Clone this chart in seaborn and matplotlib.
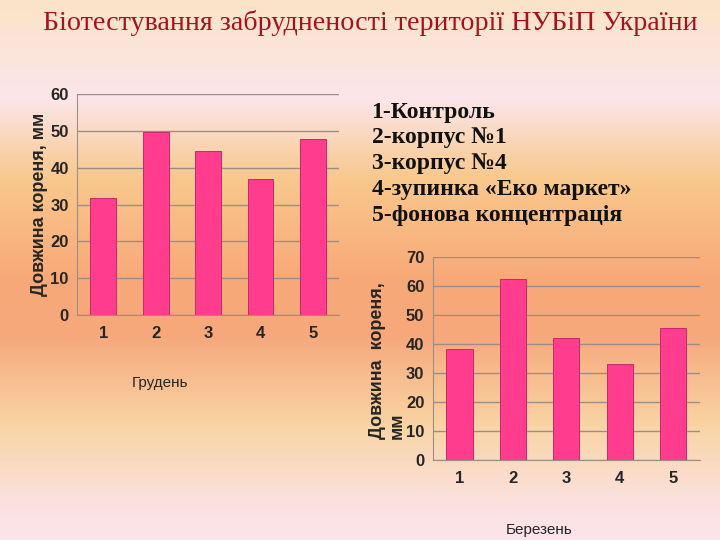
import numpy as np
import matplotlib
matplotlib.use('Agg')
import matplotlib.pyplot as plt
import seaborn as sns
from matplotlib.colors import LinearSegmentedColormap

# data
sites = ['1', '2', '3', '4', '5']
december = [31.7, 49.6, 44.5, 36.9, 47.8]
march = [38.2, 62.3, 41.9, 33.0, 45.5]
legend_lines = ['1-Контроль', '2-корпус №1', '3-корпус №4',
                '4-зупинка «Еко маркет»', '5-фонова концентрація']

sns.set_style('white')
plt.rcParams['font.family'] = ['Liberation Sans', 'DejaVu Sans']

bar_color = '#FF3C8E'
edge_color = '#C8286A'
grid_color = '#9A8F88'

fig = plt.figure(figsize=(7.2, 5.4), dpi=100)

# background gradient
bg = fig.add_axes([0, 0, 1, 1], zorder=-10)
stops = [(0.0, '#FBE3C8'), (0.18, '#FCE6EA'), (0.33, '#F8C88C'),
         (0.52, '#F8A878'), (0.62, '#F6A87C'), (0.79, '#F9D4A4'),
         (0.92, '#FBE0DA'), (1.0, '#FCE4EC')]
cmap = LinearSegmentedColormap.from_list('bg', stops)
grad = np.linspace(0, 1, 540).reshape(-1, 1)
bg.imshow(grad, aspect='auto', cmap=cmap, extent=[0, 1, 1, 0])
bg.axis('off')


def draw(ax, values, ymax, ylabel, xlabel, ylab_xy, xlab_xy, ml='center'):
    sns.barplot(x=sites, y=values, ax=ax, color=bar_color, width=0.49,
                edgecolor=edge_color, linewidth=0.7, saturation=1, zorder=3)
    ax.set_facecolor('none')
    ax.set_xlim(-0.5, 4.5)
    ax.set_ylim(0, ymax)
    ax.set_yticks(range(0, ymax + 1, 10))
    ax.yaxis.grid(True, color=grid_color, linewidth=1)
    ax.set_axisbelow(True)
    for s in ['top', 'right']:
        ax.spines[s].set_visible(False)
    for s in ['left', 'bottom']:
        ax.spines[s].set_color(grid_color)
    ax.set_xticks(np.arange(-0.5, 5, 1), minor=True)
    ax.tick_params(axis='x', which='major', length=0, pad=8)
    ax.tick_params(axis='x', which='minor', length=4, color=grid_color, direction='out')
    ax.tick_params(axis='y', length=4, color=grid_color, pad=2)
    for lab in ax.get_xticklabels() + ax.get_yticklabels():
        lab.set_fontweight('bold')
        lab.set_fontsize(12)
    ax.set_ylabel(ylabel, fontsize=13, fontweight='bold', multialignment=ml)
    ax.yaxis.set_label_coords(*ylab_xy)
    ax.set_xlabel(xlabel, fontsize=11)
    ax.xaxis.set_label_coords(*xlab_xy)


ax1 = fig.add_axes([0.107, 0.4167, 0.364, 0.409])
draw(ax1, december, 60, 'Довжина кореня, мм', 'Грудень',
     (-0.11, 0.5), (0.317, -0.276))

ax2 = fig.add_axes([0.601, 0.1476, 0.371, 0.377])
draw(ax2, march, 70, 'Довжина  кореня,\nмм', 'Березень',
     (-0.10, 0.49), (0.40, -0.308), ml='left')

fig.text(0.514, 0.957, 'Біотестування забрудненості території НУБіП України',
         ha='center', va='center', fontsize=20.2, color='#A5121E',
         family=['Liberation Serif', 'DejaVu Serif'])

fig.text(0.516, 0.812, '\n'.join(legend_lines), ha='left', va='top',
         fontsize=17, fontweight='bold', linespacing=1.3, color='#111111',
         family=['Liberation Serif', 'DejaVu Serif'])

fig.savefig('out.png', dpi=100)
